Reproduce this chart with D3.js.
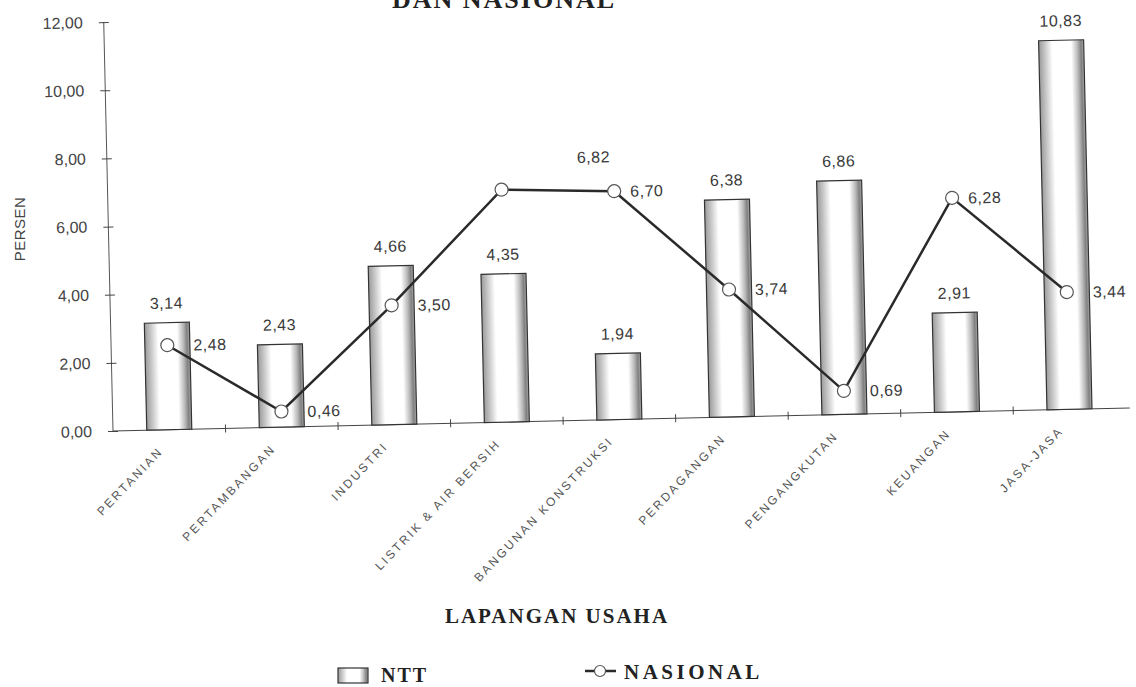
<!DOCTYPE html>
<html>
<head>
<meta charset="utf-8">
<script src="https://cdn.jsdelivr.net/npm/d3@7"></script>
<style>
  html, body { margin: 0; padding: 0; background: #fff; }
  svg { display: block; }
</style>
</head>
<body>
<div id="chart"></div>
<script>
const categories = ['PERTANIAN', 'PERTAMBANGAN', 'INDUSTRI', 'LISTRIK & AIR BERSIH', 'BANGUNAN KONSTRUKSI',
  'PERDAGANGAN', 'PENGANGKUTAN', 'KEUANGAN', 'JASA-JASA']
const ntt = [3.14, 2.43, 4.66, 4.35, 1.94, 6.38, 6.86, 2.91, 10.83]
const nasional = [2.48, 0.46, 3.50, 6.82, 6.70, 3.74, 0.69, 6.28, 3.44]
const yTicks = [0, 2, 4, 6, 8, 10, 12]

const width = 1136
const height = 687
const originX = 113
const originY = 431

const fmt = d3.formatLocale({ decimal: ',', thousands: '.', grouping: [3], currency: ['Rp', ''] }).format('.2f')
const sans = "'Liberation Sans', Arial, sans-serif"
const serif = "'Liberation Serif', 'DejaVu Serif', serif"

const svg = d3.select('#chart')
  .append('svg')
  .attr('width', width)
  .attr('height', height)

const defs = svg.append('defs')
const grad = defs.append('linearGradient')
  .attr('id', 'barShade')
  .attr('x1', '0%').attr('x2', '100%').attr('y1', '0%').attr('y2', '0%')
const stops = [[0, '#9a9a9a'], [0.14, '#c8c8c8'], [0.3, '#ffffff'], [0.72, '#ffffff'], [0.86, '#b8b8b8'], [0.94, '#808080'], [1, '#aaaaaa']]
stops.forEach(s => grad.append('stop').attr('offset', s[0]).attr('stop-color', s[1]))

// title (cut off at the top of the scan)
svg.append('text')
  .attr('x', 504)
  .attr('y', 8)
  .attr('text-anchor', 'middle')
  .attr('font-family', serif)
  .attr('font-weight', 'bold')
  .attr('font-size', 26)
  .attr('letter-spacing', 2)
  .attr('fill', '#222')
  .text('DAN NASIONAL')

// the scan is slightly tilted
const g = svg.append('g')
  .attr('transform', `rotate(-1.3, ${originX}, ${originY})`)

const x = d3.scaleBand()
  .domain(categories)
  .range([originX, 1126])
  .paddingInner(0.6)
  .paddingOuter(0.3)

const y = d3.scaleLinear()
  .domain([0, 12])
  .range([originY, 22])

const gap = (x.step() - x.bandwidth()) / 2

// y axis
const yAxis = g.append('g')
  .attr('transform', `translate(${originX},0)`)
  .call(d3.axisLeft(y).tickValues(yTicks).tickSize(5).tickPadding(16).tickFormat(fmt))
yAxis.select('.domain').attr('d', `M0,${y(12)}V${y(0)}`).attr('stroke', '#555')
yAxis.selectAll('.tick line').attr('x1', 5).attr('stroke', '#444')
yAxis.selectAll('.tick text')
  .attr('font-family', sans)
  .attr('font-size', 16)
  .attr('fill', '#444')

// x axis
const xAxis = g.append('g')
  .attr('transform', `translate(0,${originY})`)
  .call(d3.axisBottom(x).tickSize(0).tickFormat(''))
xAxis.select('.domain').attr('d', `M${originX},0H1130`).attr('stroke', '#444')

g.append('g')
  .selectAll('line')
  .data(categories.slice(1))
  .join('line')
  .attr('x1', d => x(d) - gap)
  .attr('x2', d => x(d) - gap)
  .attr('y1', originY - 4)
  .attr('y2', originY + 4)
  .attr('stroke', '#444')

g.append('g')
  .selectAll('text')
  .data(categories)
  .join('text')
  .attr('transform', d => `translate(${x(d) + x.bandwidth() / 2 - 6},${originY + 22}) rotate(-45)`)
  .attr('text-anchor', 'end')
  .attr('font-family', sans)
  .attr('font-size', 12)
  .attr('letter-spacing', 2.4)
  .attr('fill', '#555')
  .text(d => d)

// bars
g.append('g')
  .selectAll('rect')
  .data(ntt)
  .join('rect')
  .attr('x', (d, i) => x(categories[i]))
  .attr('y', d => y(d))
  .attr('width', x.bandwidth())
  .attr('height', d => y(0) - y(d))
  .attr('fill', 'url(#barShade)')
  .attr('stroke', '#333')
  .attr('stroke-width', 1.2)

g.append('g')
  .selectAll('text')
  .data(ntt)
  .join('text')
  .attr('x', (d, i) => x(categories[i]) + x.bandwidth() / 2)
  .attr('y', d => y(d) - 14)
  .attr('text-anchor', 'middle')
  .attr('font-family', sans)
  .attr('font-size', 16)
  .attr('letter-spacing', 0.5)
  .attr('fill', '#3a3a3a')
  .text(d => fmt(d))

// line
const cx = i => x(categories[i]) + x.bandwidth() / 2

g.append('path')
  .datum(nasional)
  .attr('fill', 'none')
  .attr('stroke', '#2a2a2a')
  .attr('stroke-width', 2.5)
  .attr('d', d3.line().x((d, i) => cx(i)).y(d => y(d)))

g.append('g')
  .selectAll('circle')
  .data(nasional)
  .join('circle')
  .attr('cx', (d, i) => cx(i))
  .attr('cy', d => y(d))
  .attr('r', 6.5)
  .attr('fill', '#fff')
  .attr('stroke', '#555')
  .attr('stroke-width', 1.2)

g.append('g')
  .selectAll('text')
  .data(nasional)
  .join('text')
  .attr('x', (d, i) => i === 3 ? cx(i) + 76 : cx(i) + (i === 4 || i === 7 ? 16 : 26))
  .attr('y', (d, i) => i === 3 ? y(d) - 25 : y(d) + 6)
  .attr('font-family', sans)
  .attr('font-size', 16)
  .attr('letter-spacing', 0.5)
  .attr('fill', '#3a3a3a')
  .text(d => fmt(d))

// axis titles
svg.append('text')
  .attr('transform', 'translate(25,229) rotate(-90)')
  .attr('text-anchor', 'middle')
  .attr('font-family', sans)
  .attr('font-size', 15)
  .attr('letter-spacing', 0.5)
  .attr('fill', '#444')
  .text('PERSEN')

svg.append('text')
  .attr('x', 557)
  .attr('y', 623)
  .attr('text-anchor', 'middle')
  .attr('font-family', serif)
  .attr('font-weight', 'bold')
  .attr('font-size', 21)
  .attr('letter-spacing', 2)
  .attr('fill', '#222')
  .text('LAPANGAN USAHA')

// legend
const legend = svg.append('g')

legend.append('rect')
  .attr('x', 338)
  .attr('y', 668)
  .attr('width', 30)
  .attr('height', 15)
  .attr('fill', 'url(#barShade)')
  .attr('stroke', '#333')
  .attr('stroke-width', 1.2)

legend.append('text')
  .attr('x', 381)
  .attr('y', 682)
  .attr('font-family', serif)
  .attr('font-weight', 'bold')
  .attr('font-size', 20)
  .attr('letter-spacing', 2)
  .attr('fill', '#222')
  .text('NTT')

legend.append('line')
  .attr('x1', 585)
  .attr('x2', 616)
  .attr('y1', 671)
  .attr('y2', 671)
  .attr('stroke', '#2a2a2a')
  .attr('stroke-width', 2.5)

legend.append('circle')
  .attr('cx', 600)
  .attr('cy', 671)
  .attr('r', 5.5)
  .attr('fill', '#fff')
  .attr('stroke', '#555')
  .attr('stroke-width', 1.2)

legend.append('text')
  .attr('x', 624)
  .attr('y', 679)
  .attr('font-family', serif)
  .attr('font-weight', 'bold')
  .attr('font-size', 21)
  .attr('letter-spacing', 3.5)
  .attr('fill', '#222')
  .text('NASIONAL')
</script>
</body>
</html>
